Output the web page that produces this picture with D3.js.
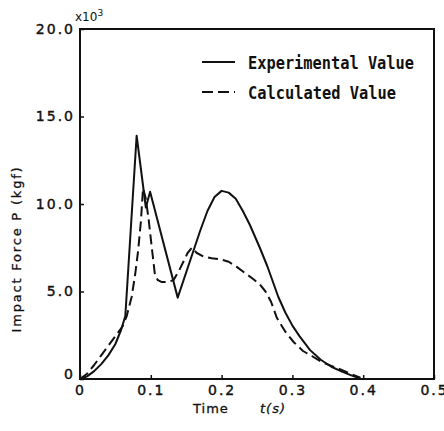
<!DOCTYPE html>
<html>
<head>
<meta charset="utf-8">
<script src="https://cdn.jsdelivr.net/npm/d3@7"></script>
<style>
  body { margin: 0; background: #fff; }
  svg { display: block; }
  text { fill: #111; }
</style>
</head>
<body>
<svg id="chart" width="444" height="431"></svg>
<script>
// time (s) and force (x10^3 kgf)
var expT = [0, 0.010, 0.020, 0.030, 0.040, 0.050, 0.058, 0.064, 0.080, 0.093, 0.099, 0.138,
            0.160, 0.170, 0.180, 0.190, 0.200, 0.210, 0.220, 0.230, 0.240, 0.254, 0.265,
            0.280, 0.290, 0.300, 0.310, 0.325, 0.340, 0.355, 0.370, 0.385, 0.396];
var expP = [0, 0.15, 0.45, 0.85, 1.35, 2.0, 2.8, 3.6, 13.9, 9.8, 10.7, 4.65,
            7.3, 8.5, 9.6, 10.4, 10.75, 10.65, 10.3, 9.6, 8.8, 7.5, 6.4,
            4.7, 3.8, 3.05, 2.45, 1.65, 1.1, 0.7, 0.42, 0.18, 0.03];

var calT = [0, 0.010, 0.020, 0.030, 0.040, 0.050, 0.060, 0.066, 0.073, 0.078, 0.082, 0.086, 0.089,
            0.093, 0.097, 0.102, 0.106, 0.110, 0.115, 0.125, 0.132, 0.140, 0.146, 0.152, 0.158,
            0.165, 0.174, 0.186, 0.198, 0.210, 0.221, 0.235, 0.245, 0.254, 0.262, 0.270, 0.278,
            0.290, 0.302, 0.315, 0.328, 0.340, 0.355, 0.368, 0.382, 0.396];
var calP = [0, 0.3, 0.8, 1.35, 1.9, 2.45, 3.0, 3.6, 4.7, 6.0, 7.3, 9.0, 10.9,
            10.3, 9.1, 7.3, 5.9, 5.65, 5.55, 5.55, 5.65, 6.2, 6.7, 7.2, 7.5,
            7.2, 7.0, 6.9, 6.84, 6.7, 6.42, 6.0, 5.7, 5.4, 5.0, 4.4, 3.5,
            2.7, 2.1, 1.6, 1.3, 1.0, 0.75, 0.55, 0.3, 0.07];

var xTicks = [0, 0.1, 0.2, 0.3, 0.4, 0.5];
var xTickLabels = ["0", "0.1", "0.2", "0.3", "0.4", "0.5"];
var yTicks = [0, 5, 10, 15, 20];
var yTickLabels = ["0", "5.0", "10.0", "15.0", "20.0"];
var legendNames = ["Experimental Value", "Calculated Value"];

var margin = { left: 80, top: 29, right: 10, bottom: 52 };
var W = 444, H = 431;
var svg = d3.select("#chart");

var x = d3.scaleLinear().domain([0, 0.5]).range([margin.left, W - margin.right]);
var y = d3.scaleLinear().domain([0, 20]).range([H - margin.bottom, margin.top]);

var tickFont = "'DejaVu Sans', sans-serif";

// frame
svg.append("rect")
  .attr("x", x(0)).attr("y", y(20))
  .attr("width", x(0.5) - x(0)).attr("height", y(0) - y(20))
  .attr("fill", "none").attr("stroke", "#111").attr("stroke-width", 2);

// bottom axis, ticks inward
var xAxis = d3.axisBottom(x).tickValues(xTicks).tickSize(-4)
  .tickFormat(function(d, i) { return xTickLabels[i]; });
var gx = svg.append("g").attr("transform", "translate(0," + y(0) + ")").call(xAxis);
gx.select(".domain").remove();
gx.selectAll("line").attr("stroke", "#111").attr("stroke-width", 1.5);
gx.selectAll("text")
  .attr("y", 6).attr("dy", "0.71em")
  .style("font-family", tickFont).style("font-size", "14px")
  .style("letter-spacing", "2px").attr("fill", "#111")
  .attr("stroke", "#111").attr("stroke-width", 0.4);

// left axis, ticks inward
var yAxis = d3.axisLeft(y).tickValues(yTicks).tickSize(-4)
  .tickFormat(function(d, i) { return yTickLabels[i]; });
var gy = svg.append("g").attr("transform", "translate(" + x(0) + ",0)").call(yAxis);
gy.select(".domain").remove();
gy.selectAll("line").attr("stroke", "#111").attr("stroke-width", 1.5);
gy.selectAll("text")
  .attr("x", -5)
  .style("font-family", tickFont).style("font-size", "14px")
  .style("letter-spacing", "2px").attr("fill", "#111")
  .attr("stroke", "#111").attr("stroke-width", 0.4);
// the zero sits a bit above the corner
gy.selectAll(".tick").filter(function(d) { return d === 0; }).select("text").attr("dy", "-0.05em");

// x10^3
var mult = svg.append("text").attr("x", 75).attr("y", 21)
  .style("font-family", tickFont).style("font-size", "12px");
mult.append("tspan").text("x10");
mult.append("tspan").attr("dy", -5).style("font-size", "9px").text("3");

// axis titles
var titleFont = "'DejaVu Sans', sans-serif";
var xt = svg.append("text").attr("y", 413)
  .style("font-family", titleFont).style("font-size", "13px").style("letter-spacing", "1px")
  .attr("stroke", "#111").attr("stroke-width", 0.3);
xt.append("tspan").attr("x", 193).text("Time");
xt.append("tspan").attr("x", 260).style("font-style", "italic").text("t(s)");

svg.append("text")
  .attr("transform", "translate(21," + 249 + ") rotate(-90)")
  .attr("text-anchor", "middle")
  .style("font-family", titleFont).style("font-size", "13px").style("letter-spacing", "1.8px")
  .attr("stroke", "#111").attr("stroke-width", 0.3)
  .text("Impact Force P (kgf)");

// curves
var line = d3.line()
  .x(function(d) { return x(d[0]); })
  .y(function(d) { return y(d[1]); })
  .curve(d3.curveLinear);

var expData = expT.map(function(t, i) { return [t, expP[i]]; });
var calData = calT.map(function(t, i) { return [t, calP[i]]; });

svg.append("path").datum(calData).attr("d", line)
  .attr("fill", "none").attr("stroke", "#111").attr("stroke-width", 2)
  .attr("stroke-dasharray", "10,5").attr("stroke-linejoin", "round");
svg.append("path").datum(expData).attr("d", line)
  .attr("fill", "none").attr("stroke", "#111").attr("stroke-width", 2)
  .attr("stroke-linejoin", "round");

// legend
var legendY = [62, 92];
var legendW = [166, 148];
var lg = svg.append("g");
legendNames.forEach(function(name, i) {
  lg.append("line")
    .attr("x1", 202).attr("x2", 235).attr("y1", legendY[i]).attr("y2", legendY[i])
    .attr("stroke", "#111").attr("stroke-width", 2)
    .attr("stroke-dasharray", i === 1 ? "11,5" : null);
  lg.append("text")
    .attr("x", 248).attr("y", legendY[i] + 7)
    .attr("textLength", legendW[i]).attr("lengthAdjust", "spacingAndGlyphs")
    .style("font-family", "'DejaVu Sans Mono', monospace").style("font-weight", "bold")
    .style("font-size", "17px")
    .text(name);
});
</script>
</body>
</html>
